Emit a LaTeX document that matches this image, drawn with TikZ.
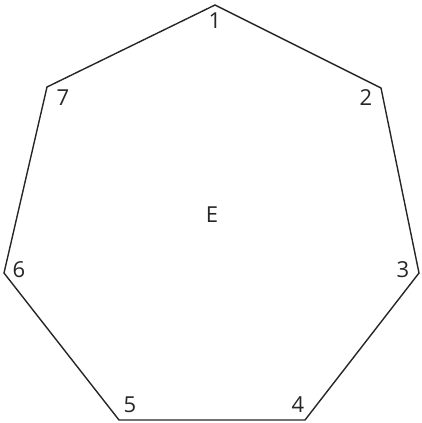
\documentclass[tikz,border=0pt]{standalone}
\usepackage{fontspec}
\setmainfont{Open Sans}
\begin{document}
\begin{tikzpicture}[x=1pt,y=-1pt,
  lbl/.style={font=\fontsize{22}{22}\selectfont, text=black!85, inner sep=0pt},
  edge/.style={draw=black!85, line width=1.4pt, line join=miter}]
\useasboundingbox (0,0) rectangle (421,423);
\coordinate (v1) at (215,5);
\coordinate (v2) at (381,88);
\coordinate (v3) at (419,273);
\coordinate (v4) at (305,420);
\coordinate (v5) at (119,420);
\coordinate (v6) at (4,273);
\coordinate (v7) at (47,87);
\draw[edge] (v1) -- (v2) -- (v3) -- (v4) -- (v5) -- (v6) -- (v7) -- cycle;
\node[lbl] (l1) at (215,21) {1};
\node[lbl] (l2) at (366,98) {2};
\node[lbl] (l3) at (403,270) {3};
\node[lbl] (l4) at (298,405) {4};
\node[lbl] (l5) at (130,405) {5};
\node[lbl] (l6) at (19,270) {6};
\node[lbl] (l7) at (63,98) {7};
\node[lbl] (E) at (212,215) {E};
\end{tikzpicture}
\end{document}
